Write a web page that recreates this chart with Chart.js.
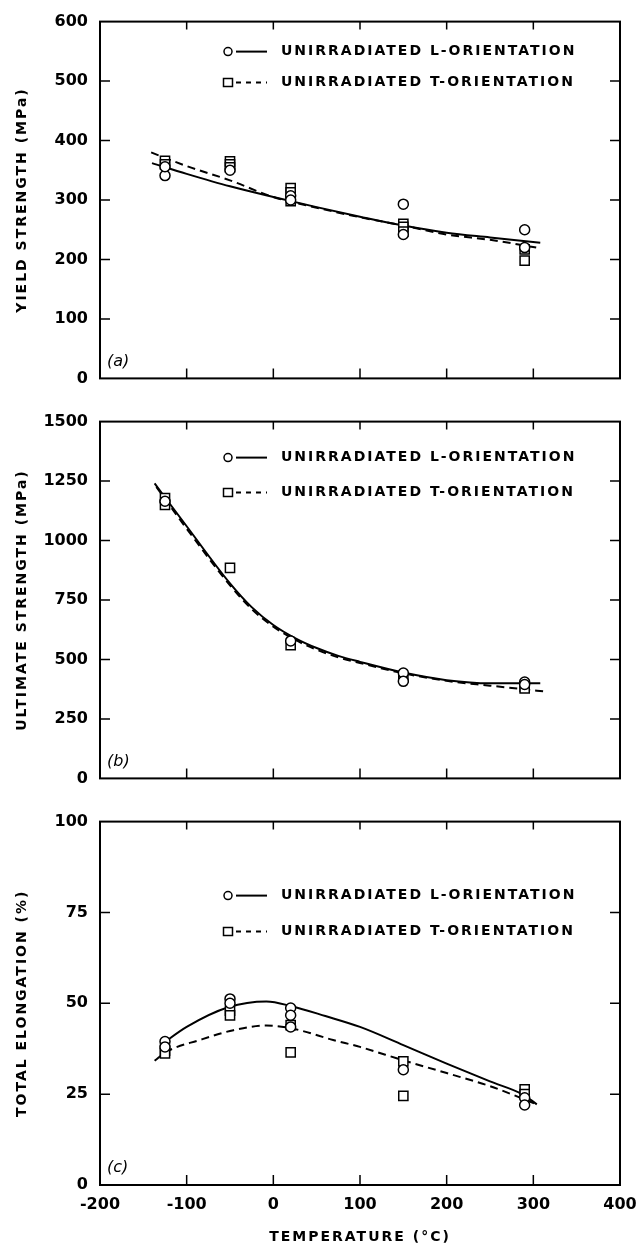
<!DOCTYPE html>
<html lang="en">
<head>
<meta charset="UTF-8">
<title>Unirradiated tensile properties vs temperature</title>
<script src="https://cdn.jsdelivr.net/npm/chart.js"></script>
<style>
  body { margin: 0; background: #fff; }
  .page { position: relative; width: 639px; height: 1251px; }
  .page canvas { position: absolute; left: 0; }
</style>
</head>
<body>
<div class="page">
  <canvas id="chartA" width="639" height="400" style="top:0"></canvas>
  <canvas id="chartB" width="639" height="400" style="top:400px"></canvas>
  <canvas id="chartC" width="639" height="451" style="top:800px"></canvas>
</div>
<script>
// x axis: test temperature, deg C
const tempMin = -200, tempMax = 400, tempStep = 100;
const labelL = 'UNIRRADIATED L-ORIENTATION';
const labelT = 'UNIRRADIATED T-ORIENTATION';

// (a) yield strength, MPa
const yieldL_t = [-125, -125, -50, 20, 20, 150, 150, 290, 290];
const yieldL_v = [341, 356, 350, 307, 300, 293, 242, 250, 220];
const yieldT_t = [-125, -125, -50, -50, -50, 20, 20, 20, 150, 150, 150, 290, 290];
const yieldT_v = [366, 360, 365, 360, 355, 320, 313, 298, 260, 255, 247, 217, 198];
const yieldFitL_t = [-140, -100, -50, 0, 50, 100, 150, 200, 250, 308];
const yieldFitL_v = [362, 344, 323, 305, 288, 272, 257, 245, 237, 228];
const yieldFitT_t = [-141, -100, -50, 0, 50, 100, 150, 200, 250, 308];
const yieldFitT_v = [380, 357, 333, 305, 287, 271, 257, 242, 233, 219];

// (b) ultimate strength, MPa
const ultL_t = [-125, 20, 150, 150, 290, 290];
const ultL_v = [1165, 578, 443, 408, 405, 395];
const ultT_t = [-125, -125, -50, 20, 150, 290, 290];
const ultT_v = [1178, 1150, 885, 560, 425, 385, 378];
const ultFitL_t = [-137, -100, -50, -25, 0, 25, 50, 75, 100, 150, 200, 250, 308];
const ultFitL_v = [1240, 1060, 820, 720, 645, 590, 548, 515, 490, 445, 413, 400, 400];
const ultFitT_t = [-135, -100, -50, -25, 0, 25, 50, 75, 100, 150, 200, 250, 312];
const ultFitT_v = [1225, 1050, 812, 712, 638, 583, 541, 509, 485, 442, 410, 390, 366];

// (c) total elongation, %
const elongL_t = [-125, -125, -50, -50, 20, 20, 20, 150, 290, 290];
const elongL_v = [39.5, 38, 51.2, 50, 48.7, 46.7, 43.5, 31.7, 24, 22];
const elongT_t = [-125, -125, -50, -50, 20, 20, 150, 150, 290, 290];
const elongT_v = [37, 36.2, 48, 46.7, 44, 36.5, 34, 24.5, 26.3, 25];
const elongFitL_t = [-130, -100, -52, -8, 21, 60, 100, 150, 200, 250, 288, 304];
const elongFitL_v = [38.5, 43.5, 48.9, 50.5, 49.2, 46.5, 43.5, 38.5, 33.4, 28.5, 24.9, 22.2];
const elongFitT_t = [-137, -123, -85, -46, -8, 23, 69, 100, 150, 200, 250, 304];
const elongFitT_v = [34.2, 36.7, 39.9, 42.6, 43.9, 43, 39.9, 38, 34.3, 30.8, 27.2, 22.2];

const FONT = '"DejaVu Sans"';
Chart.defaults.font.family = FONT;
Chart.defaults.color = '#000';

const pts = (t, v) => t.map((x, i) => ({ x: x, y: v[i] }));

// frame, inward ticks, panel tag and the in-plot legend
const frame = {
  id: 'frame',
  beforeDraw(chart) { chart.ctx.letterSpacing = '2px'; },      // axis titles are spaced out
  beforeDatasetsDraw(chart) { chart.ctx.letterSpacing = '0px'; }, // tick labels (z=1) are not
  afterDraw(chart, args, opts) {
    const { ctx, chartArea: a, scales: { x, y } } = chart;
    const ds = chart.data.datasets;
    ctx.save();
    ctx.strokeStyle = '#000';
    ctx.fillStyle = '#000';
    ctx.lineWidth = 2;
    ctx.strokeRect(a.left, a.top, a.right - a.left, a.bottom - a.top);

    ctx.lineWidth = 1.5;
    ctx.beginPath();
    x.ticks.forEach(t => {
      if (t.value <= x.min || t.value >= x.max) return;
      const px = x.getPixelForValue(t.value);
      ctx.moveTo(px, a.bottom); ctx.lineTo(px, a.bottom - 10);
      ctx.moveTo(px, a.top); ctx.lineTo(px, a.top + 8);
    });
    y.ticks.forEach(t => {
      if (t.value <= y.min || t.value >= y.max) return;
      const py = y.getPixelForValue(t.value);
      ctx.moveTo(a.left, py); ctx.lineTo(a.left + 10, py);
      ctx.moveTo(a.right, py); ctx.lineTo(a.right - 10, py);
    });
    ctx.stroke();

    ctx.textBaseline = 'middle';
    ctx.font = 'italic 16px ' + FONT;
    ctx.fillText(opts.tag, a.left + 7, a.bottom - 17);

    // legend: marker + line sample + label, rows placed inside the plot
    ctx.font = 'bold 14px ' + FONT;
    ctx.letterSpacing = '2px';
    opts.rows.forEach((dy, i) => {
      const mark = ds[i], curve = ds[i + 2];
      const lx = a.left + opts.x, ly = a.top + dy;
      ctx.lineWidth = 1.5;
      ctx.setLineDash([]);
      ctx.beginPath();
      if (mark.pointStyle === 'circle') ctx.arc(lx, ly, 4, 0, Math.PI * 2);
      else ctx.rect(lx - 4.5, ly - 4, 9, 8);
      ctx.stroke();
      ctx.lineWidth = 2;
      ctx.setLineDash(curve.borderDash.length ? [5, 5] : []);
      ctx.beginPath();
      ctx.moveTo(lx + 8, ly); ctx.lineTo(lx + 39, ly);
      ctx.stroke();
      ctx.setLineDash([]);
      ctx.fillText(mark.label, lx + 53, ly);
    });
    ctx.restore();
  }
};

function panel(id, p) {
  const tickFont = { family: FONT, size: 16, weight: 'bold' };
  const titleFont = { family: FONT, size: 14, weight: 'bold' };
  return new Chart(document.getElementById(id), {
    type: 'scatter',
    data: {
      datasets: [
        { label: labelL, data: pts(p.lt, p.lv), pointStyle: 'circle', pointRadius: 5,
          backgroundColor: '#fff', borderColor: '#000', borderWidth: 1.5 },
        { label: labelT, data: pts(p.tt, p.tv), pointStyle: 'rect', pointRadius: 6.5,
          backgroundColor: '#fff', borderColor: '#000', borderWidth: 1.5 },
        { data: pts(p.flt, p.flv), showLine: true, pointRadius: 0, borderColor: '#000',
          borderWidth: 2, borderDash: [], cubicInterpolationMode: 'monotone' },
        { data: pts(p.ftt, p.ftv), showLine: true, pointRadius: 0, borderColor: '#000',
          borderWidth: 2, borderDash: [8, 5], cubicInterpolationMode: 'monotone' }
      ]
    },
    options: {
      responsive: false,
      animation: false,
      devicePixelRatio: 1,
      layout: { autoPadding: false, padding: { top: p.top, right: 19, bottom: 0, left: 0 } },
      plugins: {
        legend: { display: false },
        tooltip: { enabled: false },
        frame: { tag: p.tag, x: 128, rows: p.rows }
      },
      scales: {
        x: {
          type: 'linear', min: tempMin, max: tempMax,
          ticks: { stepSize: tempStep, display: p.xLabels, font: tickFont, padding: 10, z: 1,
                   maxRotation: 0, callback: v => String(v) },
          grid: { display: false, drawTicks: false },
          border: { display: false },
          title: { display: p.xLabels, text: 'TEMPERATURE (°C)', font: titleFont,
                   padding: { top: 0, bottom: 5 } },
          afterFit: s => { s.height = p.xHeight; s.paddingLeft = 0; s.paddingRight = 0; }
        },
        y: {
          min: p.yMin, max: p.yMax,
          ticks: { stepSize: p.yStep, font: tickFont, padding: 12, z: 1, callback: v => String(v) },
          grid: { display: false, drawTicks: false },
          border: { display: false },
          title: { display: true, text: p.yTitle, font: titleFont, padding: { top: 14, bottom: 0 } },
          afterFit: s => { s.width = 100; }
        }
      }
    },
    plugins: [frame]
  });
}

panel('chartA', {
  tag: '(a)', top: 13, xHeight: 17, xLabels: false, rows: [30, 61],
  yMin: 0, yMax: 600, yStep: 100, yTitle: 'YIELD STRENGTH (MPa)',
  lt: yieldL_t, lv: yieldL_v, tt: yieldT_t, tv: yieldT_v,
  flt: yieldFitL_t, flv: yieldFitL_v, ftt: yieldFitT_t, ftv: yieldFitT_v
});

panel('chartB', {
  tag: '(b)', top: 16, xHeight: 16, xLabels: false, rows: [36, 71],
  yMin: 0, yMax: 1500, yStep: 250, yTitle: 'ULTIMATE STRENGTH (MPa)',
  lt: ultL_t, lv: ultL_v, tt: ultT_t, tv: ultT_v,
  flt: ultFitL_t, flv: ultFitL_v, ftt: ultFitT_t, ftv: ultFitT_v
});

panel('chartC', {
  tag: '(c)', top: 17, xHeight: 66, xLabels: true, rows: [74, 110],
  yMin: 0, yMax: 100, yStep: 25, yTitle: 'TOTAL ELONGATION (%)',
  lt: elongL_t, lv: elongL_v, tt: elongT_t, tv: elongT_v,
  flt: elongFitL_t, flv: elongFitL_v, ftt: elongFitT_t, ftv: elongFitT_v
});
</script>
</body>
</html>
